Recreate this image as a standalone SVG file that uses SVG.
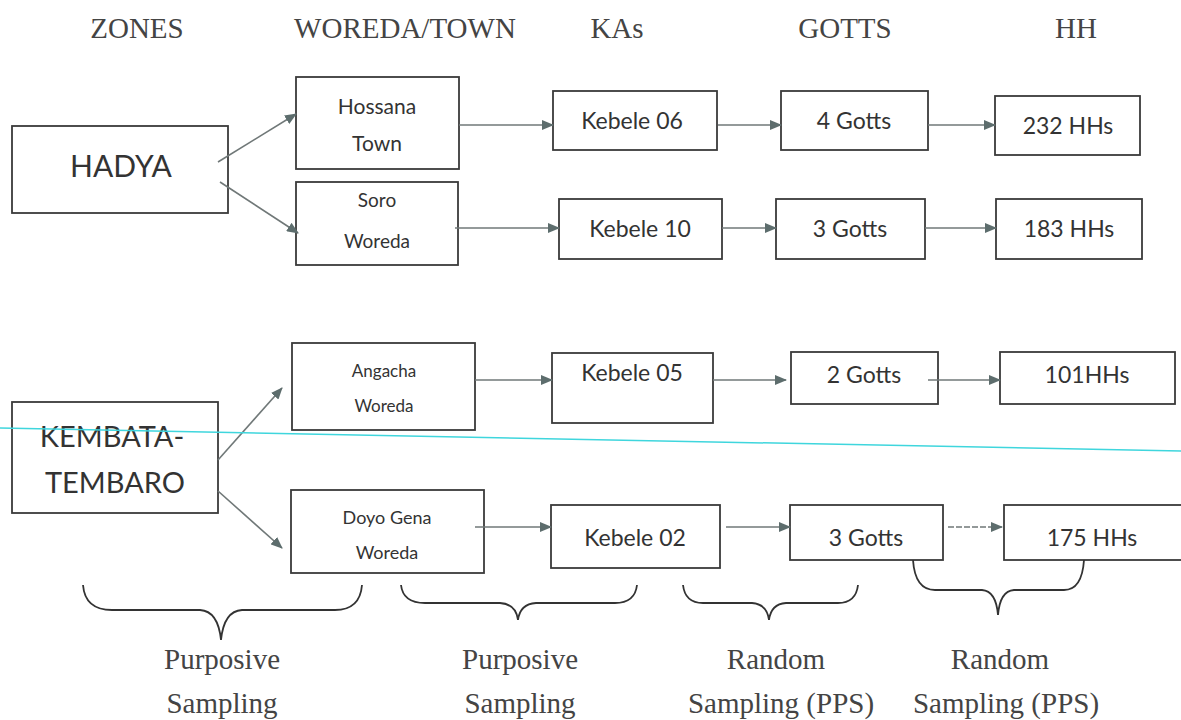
<svg xmlns="http://www.w3.org/2000/svg" width="1181" height="720" viewBox="0 0 1181 720">
<style>
.box{fill:#fff;stroke:#3a3a3a;stroke-width:1.8}
.t{font-family:Lato,"Open Sans",sans-serif;fill:#333;text-anchor:middle}
.h{font-family:"Liberation Serif",serif;fill:#444;text-anchor:middle;font-size:29px}
.c{stroke:#707878;stroke-width:1.6;fill:none;marker-end:url(#ah)}
.br{stroke:#333;stroke-width:1.8;fill:none}
</style>
<defs>
<marker id="ah" viewBox="0 0 12 10" refX="11" refY="5" markerWidth="12" markerHeight="10" markerUnits="userSpaceOnUse" orient="auto">
<path d="M0,0 L12,5 L0,10 Z" fill="#5d6d6d"/>
</marker>
</defs>
<rect width="1181" height="720" fill="#fff"/>
<g id="headers">
<text class="h" x="137" y="38">ZONES</text>
<text class="h" x="405" y="38">WOREDA/TOWN</text>
<text class="h" x="617" y="38">KAs</text>
<text class="h" x="845" y="38">GOTTS</text>
<text class="h" x="1076" y="38">HH</text>
</g>
<g id="hadya"><rect class="box" x="12" y="126" width="216" height="87"/><text class="t" x="121" y="177" font-size="30">HADYA</text></g>
<g id="hossana"><rect class="box" x="296" y="77" width="163" height="92"/><text class="t" x="377" y="114" font-size="21">Hossana</text><text class="t" x="377" y="151" font-size="21">Town</text></g>
<g id="soro"><rect class="box" x="296" y="182" width="162" height="83"/><text class="t" x="377" y="207" font-size="19">Soro</text><text class="t" x="377" y="248" font-size="19">Woreda</text></g>
<g id="kebele06"><rect class="box" x="553" y="91" width="164" height="59"/><text class="t" x="632" y="129" font-size="23">Kebele 06</text></g>
<g id="gotts4"><rect class="box" x="781" y="91" width="147" height="59"/><text class="t" x="854" y="129" font-size="23">4 Gotts</text></g>
<g id="hh232"><rect class="box" x="995" y="96" width="145" height="59"/><text class="t" x="1068" y="134" font-size="23">232 HHs</text></g>
<g id="kebele10"><rect class="box" x="559" y="199" width="163" height="60"/><text class="t" x="640" y="237" font-size="23">Kebele 10</text></g>
<g id="gotts3a"><rect class="box" x="776" y="199" width="149" height="60"/><text class="t" x="850" y="237" font-size="23">3 Gotts</text></g>
<g id="hh183"><rect class="box" x="996" y="199" width="146" height="60"/><text class="t" x="1069" y="237" font-size="23">183 HHs</text></g>
<g id="kembata"><rect class="box" x="12" y="402" width="206" height="111"/><text class="t" x="112" y="447" font-size="29">KEMBATA-</text><text class="t" x="115" y="493" font-size="29">TEMBARO</text></g>
<g id="angacha"><rect class="box" x="292" y="343" width="183" height="87"/><text class="t" x="384" y="377" font-size="17">Angacha</text><text class="t" x="384" y="412" font-size="17" fill="#2f5f6f">Woreda</text></g>
<g id="doyo"><rect class="box" x="291" y="490" width="193" height="83"/><text class="t" x="387" y="524" font-size="18">Doyo Gena</text><text class="t" x="387" y="559" font-size="18">Woreda</text></g>
<g id="kebele05"><rect class="box" x="552" y="353" width="161" height="70"/><text class="t" x="632" y="381" font-size="23">Kebele 05</text></g>
<g id="gotts2"><rect class="box" x="791" y="352" width="147" height="52"/><text class="t" x="864" y="383" font-size="23">2 Gotts</text></g>
<g id="hh101"><rect class="box" x="1000" y="352" width="175" height="52"/><text class="t" x="1087" y="383" font-size="23">101HHs</text></g>
<g id="kebele02"><rect class="box" x="551" y="505" width="169" height="63"/><text class="t" x="635" y="546" font-size="23">Kebele 02</text></g>
<g id="gotts3b"><rect class="box" x="790" y="505" width="153" height="55"/><text class="t" x="866" y="546" font-size="23">3 Gotts</text></g>
<g id="hh175"><rect class="box" x="1004" y="505" width="190" height="55"/><text class="t" x="1092" y="546" font-size="23">175 HHs</text></g>
<g id="connectors">
<path class="c" d="M218,162 L296,114"/>
<path class="c" d="M220,182 L298,233"/>
<path class="c" d="M459,125 L553,125"/>
<path class="c" d="M718,125 L781,125"/>
<path class="c" d="M928,125 L995,125"/>
<path class="c" d="M455,228 L559,228"/>
<path class="c" d="M722,228 L776,228"/>
<path class="c" d="M925,228 L996,228"/>
<path class="c" d="M218,460 L282,388"/>
<path class="c" d="M218,491 L282,548"/>
<path class="c" d="M475,380 L552,380"/>
<path class="c" d="M713,380 L786,380"/>
<path class="c" d="M928,380 L1000,380"/>
<path class="c" d="M475,527 L551,527"/>
<path class="c" d="M726,527 L790,527"/>
<path class="c" d="M948,527 L1002,527" stroke-dasharray="6,2"/>
</g>
<g id="braces">
<path class="br" d="M83,585 Q85,610 112,610 L200,610 Q218,611 221,640 Q224,611 242,610 L335,610 Q360,610 362,585"/>
<path class="br" d="M401,585 Q403,603 425,603 L500,603 Q516,604 518,620 Q520,604 536,603 L615,603 Q635,603 637,585"/>
<path class="br" d="M683,585 Q685,603 703,603 L752,603 Q767,604 769,620 Q771,604 786,603 L838,603 Q856,603 858,585"/>
<path class="br" d="M913,560 Q915,590 935,590 L982,590 Q996,591 998,615 Q1000,591 1014,590 L1064,590 Q1082,590 1084,560"/>
</g>
<g id="labels">
<text class="h" x="222" y="669">Purposive</text>
<text class="h" x="222" y="713">Sampling</text>
<text class="h" x="520" y="669">Purposive</text>
<text class="h" x="520" y="713">Sampling</text>
<text class="h" x="776" y="669">Random</text>
<text class="h" x="781" y="713">Sampling (PPS)</text>
<text class="h" x="1000" y="669">Random</text>
<text class="h" x="1006" y="713">Sampling (PPS)</text>
</g>
<line x1="0" y1="428" x2="1181" y2="451" stroke="#3fd6dd" stroke-width="1.5"/>
</svg>
